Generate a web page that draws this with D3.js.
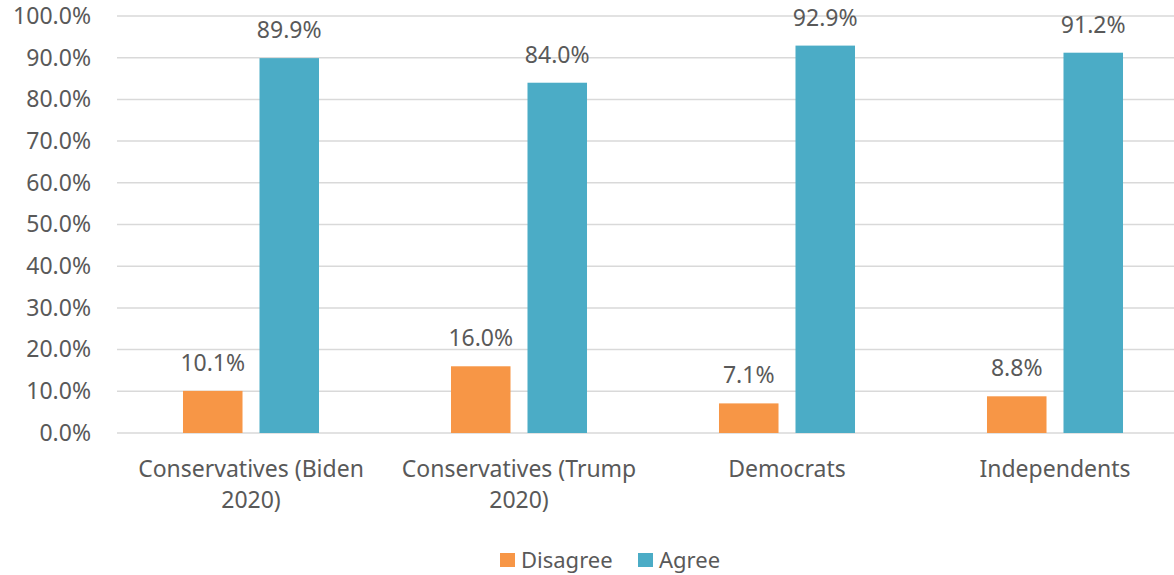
<!DOCTYPE html>
<html><head><meta charset="utf-8">
<script src="https://cdn.jsdelivr.net/npm/d3@7"></script>
<style>body{margin:0;background:#fff;overflow:hidden;} text{font-family:"Noto Sans", sans-serif;fill:#595959;}</style>
</head><body><svg id="c" width="1174" height="575"></svg>
<script>
const categories = ["Conservatives (Biden 2020)", "Conservatives (Trump 2020)", "Democrats", "Independents"];
const categoryLines = [["Conservatives (Biden", "2020)"], ["Conservatives (Trump", "2020)"], ["Democrats"], ["Independents"]];
const seriesNames = ["Disagree", "Agree"];
const disagree = [10.1, 16.0, 7.1, 8.8];
const agree = [89.9, 84.0, 92.9, 91.2];
const yTicks = [0, 10, 20, 30, 40, 50, 60, 70, 80, 90, 100];
const colors = ["#F79646", "#4BACC6"];

(function () {
const svg = d3.select("#c");
const fs = "23px";
const mLeft = 117, mRight = 1189, mTop = 16, mBottom = 433;
const x0 = d3.scaleBand().domain(categories).range([mLeft, mRight]);
const x1 = d3.scaleBand().domain(seriesNames).range([0, x0.bandwidth()]).paddingInner(0.222).paddingOuter(0.8627);
const y = d3.scaleLinear().domain([0, 100]).range([mBottom, mTop]);
const fmt = v => v.toFixed(1) + "%";

svg.append("g").selectAll("line").data(yTicks).join("line")
  .attr("x1", mLeft).attr("x2", mRight)
  .attr("y1", d => y(d)).attr("y2", d => y(d))
  .attr("stroke", "#d9d9d9").attr("stroke-width", 1.5);

const yAxis = svg.append("g").attr("transform", `translate(${mLeft},0)`)
  .call(d3.axisLeft(y).tickValues(yTicks).tickFormat(fmt).tickSize(0).tickPadding(26));
yAxis.select(".domain").remove();
yAxis.selectAll("text").style("font-size", fs).attr("fill", "#595959").style("font-family", "Noto Sans");

const data = categories.map((c, i) => ({cat: c, vals: [disagree[i], agree[i]]}));
const g = svg.append("g").selectAll("g").data(data).join("g")
  .attr("transform", d => `translate(${x0(d.cat)},0)`);
g.selectAll("rect").data(d => d.vals.map((v, j) => ({s: seriesNames[j], v, j}))).join("rect")
  .attr("x", d => x1(d.s)).attr("width", x1.bandwidth())
  .attr("y", d => y(d.v)).attr("height", d => y(0) - y(d.v))
  .attr("fill", d => colors[d.j]);
g.selectAll("text.lbl").data(d => d.vals.map((v, j) => ({s: seriesNames[j], v, j}))).join("text")
  .attr("class", "lbl")
  .attr("x", d => x1(d.s) + x1.bandwidth() / 2).attr("y", d => y(d.v) - 20)
  .attr("text-anchor", "middle").style("font-size", fs).text(d => fmt(d.v));

const xl = svg.append("g");
categories.forEach((c, i) => {
  const cx = x0(c) + x1("Disagree") + (x1("Agree") + x1.bandwidth() - x1("Disagree")) / 2;
  const t = xl.append("text").attr("text-anchor", "middle").style("font-size", fs)
    .attr("x", cx).attr("y", 477);
  categoryLines[i].forEach((ln, k) => {
    t.append("tspan").attr("x", cx).attr("dy", k === 0 ? 0 : 31).text(ln);
  });
});

const legend = svg.append("g");
const lx = [500, 638];
seriesNames.forEach((s, i) => {
  legend.append("rect").attr("x", lx[i]).attr("y", 553).attr("width", 15).attr("height", 14).attr("fill", colors[i]);
  legend.append("text").attr("x", lx[i] + 21).attr("y", 568).style("font-size", "22px").text(s);
});
})();
</script></body></html>
